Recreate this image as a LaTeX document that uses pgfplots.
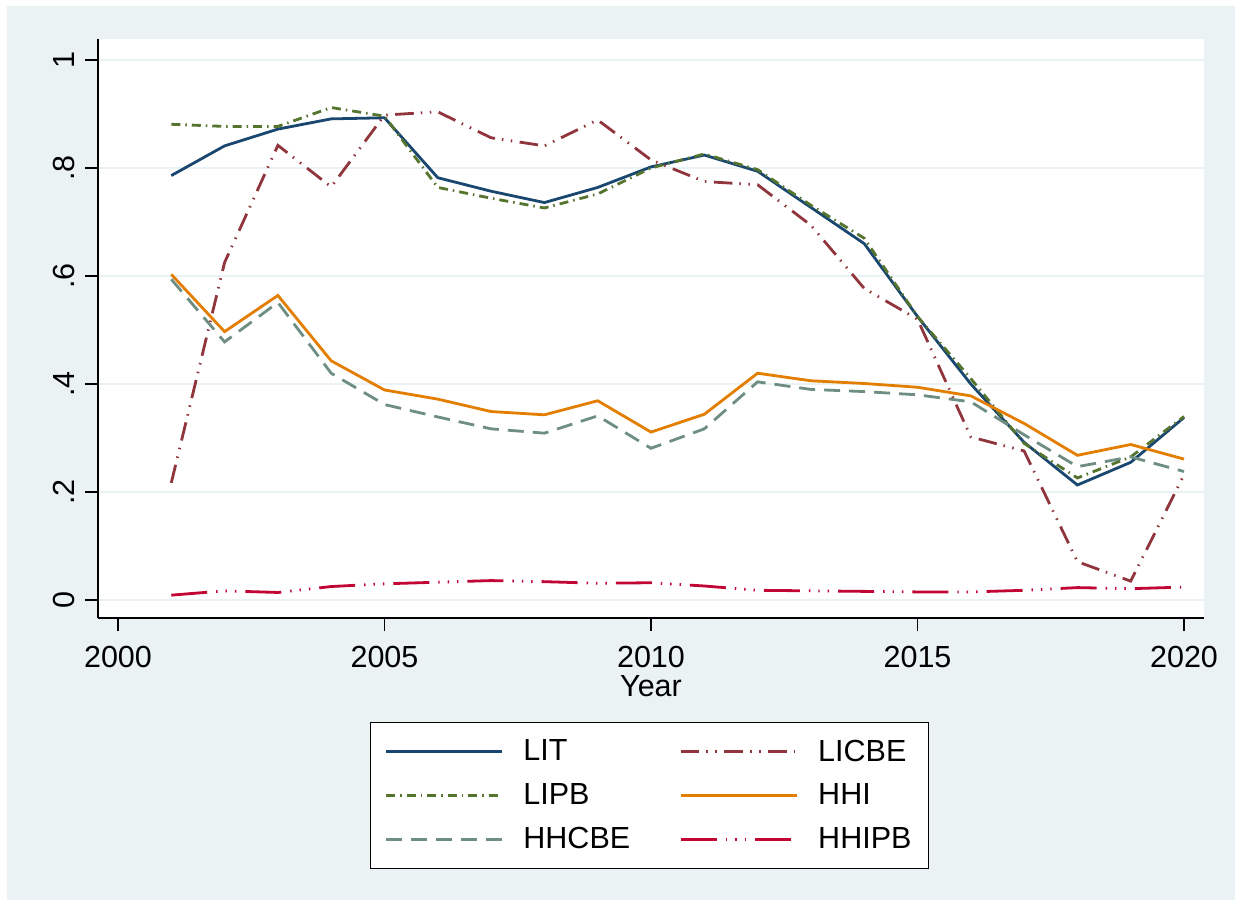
\documentclass[border=0pt]{standalone}
\usepackage{fontspec}
\setmainfont{Liberation Sans}
\usepackage{pgfplots}
\usepackage{pgfplotstable}
\pgfplotsset{compat=1.18}
\definecolor{bgc}{RGB}{234,242,243}
\definecolor{snavy}{RGB}{26,71,111}
\definecolor{smaroon}{RGB}{144,53,59}
\definecolor{sgreen}{RGB}{85,117,47}
\definecolor{sorange}{RGB}{227,126,0}
\definecolor{steal}{RGB}{110,142,132}
\definecolor{scran}{RGB}{193,5,52}
\newcommand{\ff}{\fontsize{15.25}{18}\selectfont}

\pgfplotstableread{
year LIT LICBE LIPB HHI HHCBE HHIPB
2001 0.786 0.217 0.881 0.603 0.594 0.009
2002 0.841 0.625 0.877 0.497 0.478 0.017
2003 0.872 0.842 0.877 0.564 0.551 0.014
2004 0.891 0.765 0.912 0.443 0.420 0.025
2005 0.893 0.898 0.896 0.389 0.362 0.030
2006 0.782 0.904 0.764 0.372 0.339 0.033
2007 0.757 0.856 0.744 0.349 0.317 0.036
2008 0.736 0.841 0.726 0.343 0.309 0.034
2009 0.764 0.889 0.752 0.369 0.341 0.031
2010 0.802 0.815 0.800 0.311 0.281 0.032
2011 0.824 0.775 0.826 0.344 0.317 0.026
2012 0.794 0.769 0.797 0.420 0.404 0.018
2013 0.727 0.694 0.731 0.406 0.390 0.017
2014 0.660 0.577 0.670 0.401 0.386 0.016
2015 0.525 0.520 0.525 0.394 0.380 0.015
2016 0.400 0.302 0.410 0.378 0.367 0.015
2017 0.292 0.276 0.290 0.327 0.306 0.018
2018 0.213 0.071 0.226 0.268 0.247 0.023
2019 0.255 0.035 0.265 0.288 0.265 0.021
2020 0.338 0.232 0.340 0.261 0.238 0.024
}\datatable

\begin{document}
\begin{tikzpicture}
\fill[white] (-49pt,-144pt) rectangle (571.5pt,309pt);
\fill[bgc] (-45.5pt,-141pt) rectangle (568.5pt,306pt);
\begin{axis}[
  scale only axis, width=553pt, height=289.5pt,
  xmin=1999.625, xmax=2020.375, ymin=-0.0333, ymax=1.0389,
  axis x line*=bottom, axis y line*=left,
  axis line style={line width=0.75pt, -, black},
  axis background/.style={fill=white},
  xtick={2000,2005,2010,2015,2020}, xticklabels={2000,2005,2010,2015,2020},
  ytick={0,0.2,0.4,0.6,0.8,1}, yticklabels={0,.2,.4,.6,.8,1},
  tick align=outside, major tick length=6.5pt,
  tick style={line width=0.6pt, black},
  ymajorgrids, grid style={line width=1.2pt, bgc},
  tick label style={font=\ff},
  xticklabel style={anchor=base, yshift=-18pt},
  yticklabel style={xshift=-5.5pt, rotate=90, anchor=base},
  xlabel={Year},
  xlabel style={at={(axis description cs:0.5,-0.1364)}, anchor=base, font=\ff},
  legend columns=2,
  legend style={at={(rel axis cs:0.4986,-0.1796)}, anchor=north, draw=black,
    line width=0.75pt, fill=white, inner xsep=7pt, inner ysep=8.5pt, row sep=9.8pt,
    font=\ff, nodes={inner sep=0pt},
    /tikz/every odd column/.append style={column sep=10pt}},
  legend image code/.code={\draw[#1] (0pt,0pt) -- (58pt,0pt);},
  every axis plot/.append style={line width=1.4pt},
]
\addplot[snavy] table[x=year, y=LIT] {\datatable};
\addlegendentry{\makebox[78pt][l]{LIT}}
\addplot[smaroon, dash pattern=on 9.3pt off 3.5pt on 0.75pt off 3.75pt on 0.75pt off 3.75pt] table[x=year, y=LICBE] {\datatable};
\addlegendentry{\makebox[48pt][l]{LICBE}}
\addplot[sgreen, dash pattern=on 4.5pt off 2.5pt on 0.75pt off 2.5pt] table[x=year, y=LIPB] {\datatable};
\addlegendentry{\makebox[78pt][l]{LIPB}}
\addplot[sorange] table[x=year, y=HHI] {\datatable};
\addlegendentry{\makebox[48pt][l]{HHI}}
\addplot[steal, dash pattern=on 8pt off 4.5pt] table[x=year, y=HHCBE] {\datatable};
\addlegendentry{\makebox[78pt][l]{HHCBE}}
\addplot[scran, dash pattern=on 18pt off 4.5pt on 0.7pt off 4pt on 0.7pt off 4pt on 0.7pt off 4.5pt] table[x=year, y=HHIPB] {\datatable};
\addlegendentry{\makebox[48pt][l]{HHIPB}}
\end{axis}
\end{tikzpicture}
\end{document}
